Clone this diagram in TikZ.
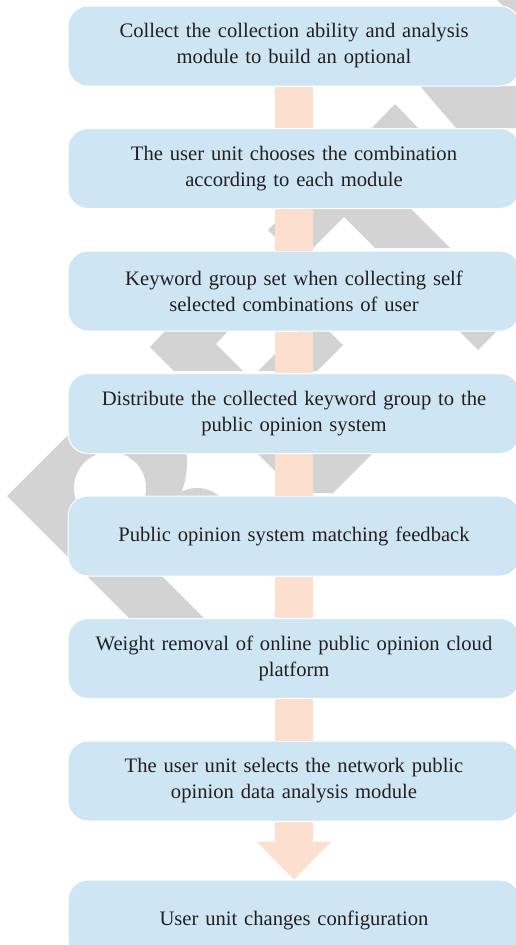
\documentclass[tikz,border=0pt]{standalone}
\usepackage{fontspec}
\setmainfont{Liberation Serif}
\definecolor{boxblue}{RGB}{206,230,243}
\definecolor{peach}{RGB}{253,223,207}
\definecolor{marklight}{RGB}{211,211,211}
\definecolor{inkgray}{RGB}{35,31,32}
\usetikzlibrary{positioning}

\begin{document}
\begin{tikzpicture}[x=1pt, y=-1pt,
  stepbox/.style={fill=boxblue, draw=white, line width=1pt, rounded corners=20pt,
    minimum width=452pt, minimum height=80pt, text width=440pt, align=center,
    text=inkgray, font=\fontsize{20.6}{26}\selectfont},
  link/.style={draw=peach, line width=38pt},
  wm/.style={fill=marklight},
  node distance=41.5pt,
]
  \useasboundingbox (0,0) rectangle (516,945);
  \clip (0,0) rectangle (516,945);
  % watermark behind the boxes
  \fill[wm] (7,496) -- (100,403) -- (175,403) -- (82,496) -- (236,650) -- (161,650) -- cycle;
  \begin{scope}
    \clip (68,0) rectangle (516,945);
    \fill[wm] (110,463) circle[radius=77];
  \end{scope}
  \fill[white] (110,488) circle[radius=36];
  \fill[wm] (197,522) circle[radius=34];
  \fill[wm] (497,0) -- (530,0) -- (530,33) -- cycle;
  \fill[wm] (420,86) -- (530,86) -- (530,128) -- (456,128) -- cycle;
  \fill[wm] (367,133) -- (395,104) -- (423,133) -- cycle;
  \fill[wm] (268,230) -- (290,208) -- (410,208) -- (450,248) -- (375,248) -- (344,217) -- (313,248) -- (286,248) -- cycle;
  \fill[wm] (150,347) -- (166,330) -- (229,330) -- (216,344) -- (243,371) -- (174,371) -- cycle;
  \fill[wm] (258,371) -- (299,330) -- (328,330) -- (343,345) -- (317,371) -- cycle;
  \fill[wm] (458,330) -- (498,330) -- (478,350) -- cycle;
  \fill[wm] (255,451) -- (375,451) -- (333,493) -- (297,493) -- cycle;

  \node[stepbox] (s1) at (294,46) {Collect the collection ability and analysis\\ module to build an optional};
  \node[stepbox, below=of s1] (s2) {The user unit chooses the combination\\ according to each module};
  \node[stepbox, below=of s2] (s3) {Keyword group set when collecting self\\ selected combinations of user};
  \node[stepbox, below=of s3] (s4) {Distribute the collected keyword group to the\\ public opinion system};
  \node[stepbox, below=of s4] (s5) {Public opinion system matching feedback};
  \node[stepbox, below=of s5] (s6) {Weight removal of online public opinion cloud\\ platform};
  \node[stepbox, below=of s6] (s7) {The user unit selects the network public\\ opinion data analysis module};
  \node[stepbox, below=58pt of s7] (s8) {User unit changes configuration};

  \foreach \a/\b in {s1/s2, s2/s3, s3/s4, s4/s5, s5/s6, s6/s7}
    \draw[link] (\a.south) -- (\b.north);
  \coordinate (headbase) at ([yshift=38pt]s8.north);
  \draw[link] (s7.south) -- (headbase);
  \fill[peach] ([xshift=-37.5pt]headbase) -- ([xshift=37.5pt]headbase) -- (s8.north) -- cycle;
\end{tikzpicture}
\end{document}
